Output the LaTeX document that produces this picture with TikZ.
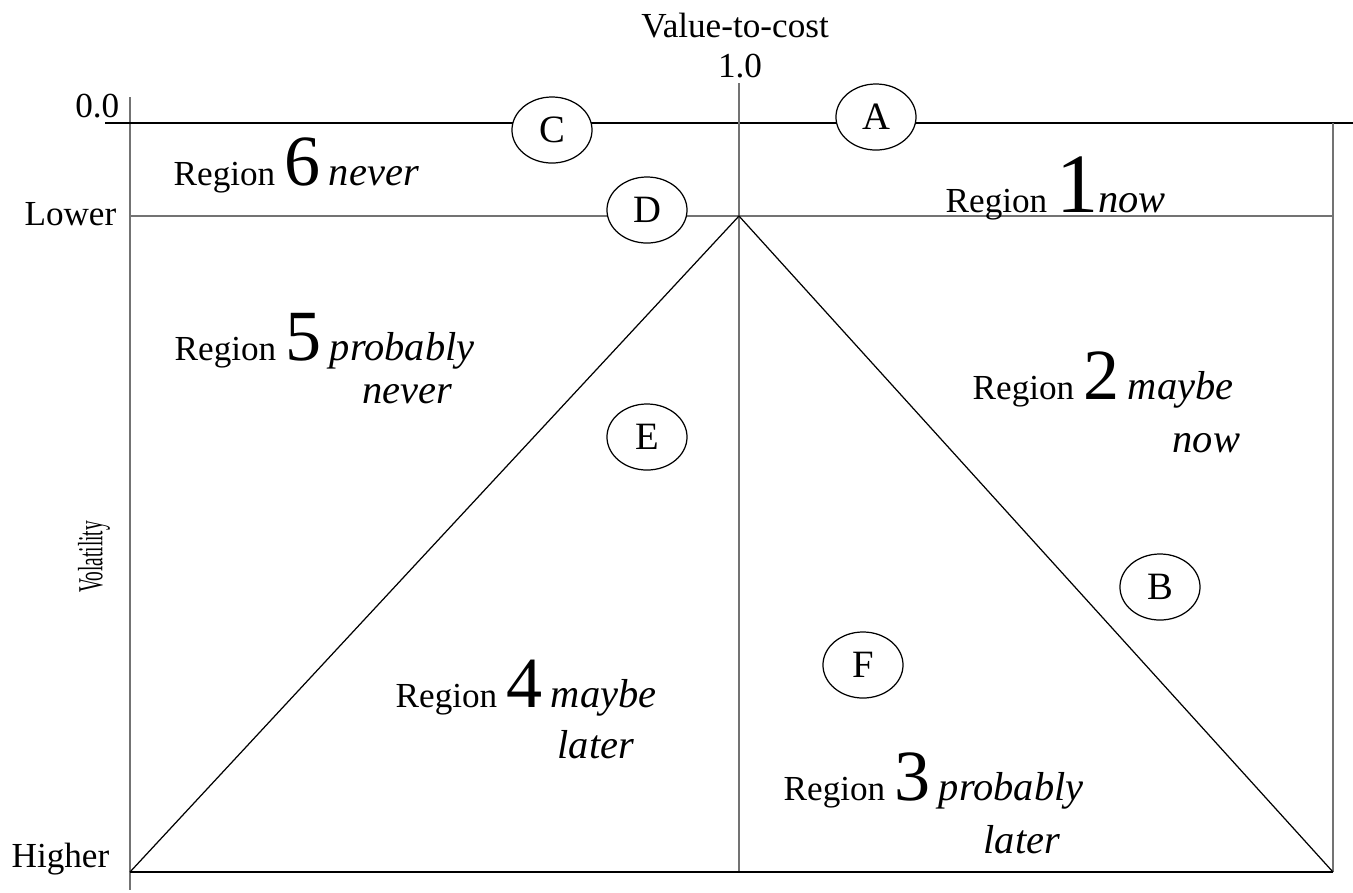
\documentclass[tikz,border=0pt]{standalone}
\usepackage{fontspec}
\setmainfont{Liberation Serif}[ItalicFont={Liberation Serif Italic}]
\usetikzlibrary{shapes.geometric}

\newcommand{\regnum}[1]{\scalebox{2.05}{#1}}
\newcommand{\regword}[1]{{\fontsize{11.5}{12}\selectfont\itshape #1}}

\begin{document}
\begin{tikzpicture}[x=0.01cm,y=-0.01cm,font=\fontsize{10}{12}\selectfont,
  item/.style={draw,ellipse,fill=white,minimum width=0.8cm,minimum height=0.66cm,
    inner sep=0pt,line width=0.35pt,font=\fontsize{11}{12}\selectfont},
  lbl/.style={anchor=base west,inner sep=0pt},
  hline/.style={line width=0.45pt},
  vline/.style={line width=0.45pt,black!55}]
\useasboundingbox (0,0) rectangle (1353,893);

% corners of the chart
\coordinate (axtop) at (130,97);
\coordinate (axbot) at (130,890);
\coordinate (topl) at (105,123);
\coordinate (topr) at (1353,123);
\coordinate (lowl) at (130,216);
\coordinate (lowr) at (1333,216);
\coordinate (rtop) at (1333,123);
\coordinate (brr) at (1333,872);
\coordinate (bll) at (130,872);
\coordinate (mtop) at (739,83);
\coordinate (apex) at (739,216);
\coordinate (mbot) at (739,872);

% axes and grid
\draw[vline] (axtop) -- (axbot);
\draw[hline] (topl) -- (topr);
\draw[vline] (lowl) -- (lowr);
\draw[vline] (mtop) -- (mbot);
\draw[vline] (rtop) -- (brr);
\draw[hline] (bll) -- (brr);
\draw[line width=0.35pt] (bll) -- (apex) -- (brr);

% axis labels
\node[anchor=base] (vc) at (735,37) {Value-to-cost};
\node[anchor=base] (one) at (740,77) {1.0};
\node[anchor=base east,inner sep=0pt] (zero) at (120,117) {0.0};
\node[anchor=base east,inner sep=0pt] (lower) at (117,225) {Lower};
\node[anchor=base east,inner sep=0pt] (higher) at (110,867) {Higher};
\node[rotate=90,inner sep=0pt] (vol) at (94,557) {\scalebox{0.55}[1]{Volatility}};

% regions
\node[lbl] (r6) at (173,185) {Region \regnum{6} \regword{never}};
\node[lbl] (r1) at (945,212) {Region \scalebox{2.4}{1}\regword{now}};
\node[lbl] (r5) at (174,360) {Region \regnum{5} \regword{probably}};
\node[lbl] (r5b) at (362,403) {\regword{never}};
\node[lbl] (r2) at (972,399) {Region \regnum{2} \regword{maybe}};
\node[lbl] (r2b) at (1172,452) {\regword{now}};
\node[lbl] (r4) at (395,707) {Region \regnum{4} \regword{maybe}};
\node[lbl] (r4b) at (557,758) {\regword{later}};
\node[lbl] (r3) at (783,800) {Region \regnum{3} \regword{probably}};
\node[lbl] (r3b) at (983,853) {\regword{later}};

% items
\node[item] (C) at (552,130) {C};
\node[item] (A) at (876,117) {A};
\node[item] (D) at (647,210) {D};
\node[item] (E) at (647,437) {E};
\node[item] (B) at (1160,587) {B};
\node[item] (F) at (863,665) {F};

\end{tikzpicture}
\end{document}
